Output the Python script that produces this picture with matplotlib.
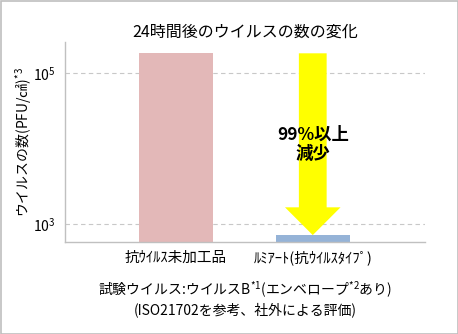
import matplotlib
matplotlib.use("Agg")
import matplotlib.pyplot as plt
from matplotlib.patches import Rectangle
import numpy as np

plt.rcParams['font.family'] = ['Noto Sans CJK JP', 'DejaVu Sans']
plt.rcParams['mathtext.fontset'] = 'custom'
plt.rcParams['mathtext.rm'] = 'Noto Sans CJK JP'

categories = ["抗ｳｲﾙｽ未加工品", "ﾙﾐｱｰﾄ(抗ｳｲﾙｽﾀｲﾌﾟ)"]
values = [1.84e5, 7.1e2]
bar_colors = ["#E3B8B8", "#95B3D7"]
ytick_values = [1e3, 1e5]
ytick_labels = [r"$10^{3}$", r"$10^{5}$"]
title = "24時間後のウイルスの数の変化"
ylabel = "ウイルスの数(PFU/㎠)$^{*3}$"
note_line1 = "試験ウイルス:ウイルスB$^{*1}$(エンベロープ$^{*2}$あり)"
note_line2 = "(ISO21702を参考、社外による評価)"
arrow_text = "99%以上\n減少"

fig = plt.figure(figsize=(4.58, 3.34), dpi=100)
ax = fig.add_axes([65/458, 1-242/334, 360/458, 200/334])

ymin, ymax = 575, 2.6e5
x = np.arange(len(categories))
ax.bar(x, [v - ymin for v in values], bottom=ymin, width=0.54, color=bar_colors, zorder=2)
ax.set_yscale('log')
ax.set_ylim(ymin, ymax)
ax.set_xlim(-0.81, 1.82)

ax.set_yticks(ytick_values)
ax.set_yticklabels(ytick_labels, fontsize=10)
ax.yaxis.set_minor_locator(matplotlib.ticker.NullLocator())
ax.set_xticks(x)
ax.set_xticklabels(categories, fontsize=10.5)
ax.tick_params(axis='both', length=0, pad=6)
ax.tick_params(axis='y', pad=7)
ax.grid(axis='y', linestyle=(0, (4, 3)), color='#c8c8c8', linewidth=0.8, zorder=0)
for s in ['top', 'right']:
    ax.spines[s].set_visible(False)
for s in ['left', 'bottom']:
    ax.spines[s].set_color('#c0c0c0')
    ax.spines[s].set_linewidth(1.0)

ax.set_ylabel(ylabel, fontsize=10, labelpad=6)
ax.yaxis.set_label_coords(-0.086, 0.5)

fig.text(245/458, 1-32/334, title, ha='center', va='center', fontsize=11.5)

# arrow from first bar level down to second bar level
ax.annotate("", xy=(x[1], values[1]), xytext=(x[1], values[0]),
            arrowprops=dict(arrowstyle="simple,head_length=1.0,head_width=2.0,tail_width=1.0",
                            mutation_scale=20, color='#FFFF00', lw=0,
                            shrinkA=0, shrinkB=0), zorder=3)
ax.text(x[1], np.sqrt(values[0]*values[1]), arrow_text, ha='center', va='center',
        fontsize=12.5, fontweight='bold', linespacing=1.05, zorder=4)

fig.text(245/458, 1-290/334, note_line1, ha='center', va='center', fontsize=10)
fig.text(245/458, 1-310/334, note_line2, ha='center', va='center', fontsize=10)

fig.patches.append(Rectangle((0.5/458, 0.5/334), 1-1/458, 1-1/334, transform=fig.transFigure,
                             fill=False, edgecolor='#bfbfbf', linewidth=1.2))

fig.savefig("out.png", dpi=100, facecolor='white')
